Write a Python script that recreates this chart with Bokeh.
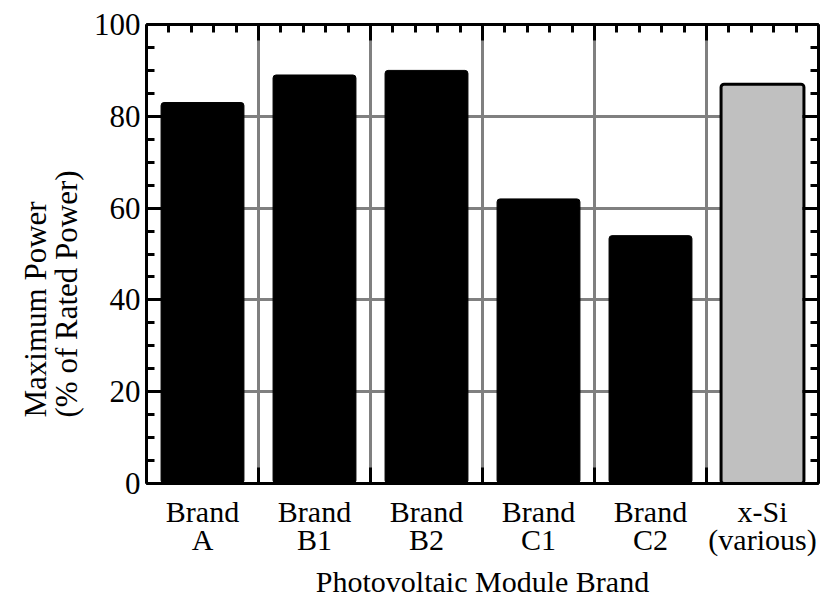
from bokeh.plotting import figure
from bokeh.models import FixedTicker, SingleIntervalTicker, LinearAxis, Range1d, Title, ColumnDataSource
from bokeh.embed import file_html
from bokeh.resources import INLINE

# ---- data ----
categories = ["Brand\nA", "Brand\nB1", "Brand\nB2", "Brand\nC1", "Brand\nC2", "x-Si\n(various)"]
max_power = [83, 89, 90, 62, 54, 87]
bar_colors = ["black", "black", "black", "black", "black", "#c0c0c0"]
x_label = "Photovoltaic Module Brand"
y_label = "Maximum Power\n(% of Rated Power)"

FONT = "Liberation Serif"
positions = list(range(1, len(categories) + 1))
bounds = [x - 0.5 for x in positions] + [positions[-1] + 0.5]
top_minor = [b + k * 0.2 for b in bounds[:-1] for k in range(1, 5)]

src = ColumnDataSource(dict(x=positions, top=max_power, color=bar_colors,
                            lw=[1, 1, 1, 1, 1, 3]))

p = figure(width=824, height=602, x_range=Range1d(0.5, 6.5), y_range=Range1d(0, 100),
           output_backend="svg", toolbar_location=None,
           min_border_left=146, min_border_right=6, min_border_top=24, min_border_bottom=119)
p.outline_line_color = None
p.background_fill_color = "white"
p.border_fill_color = "white"

bx = p.below[0]
ly = p.left[0]

# grids
p.xgrid.ticker = FixedTicker(ticks=bounds[1:-1])
p.ygrid.ticker = FixedTicker(ticks=[20, 40, 60, 80])
for g in (p.xgrid, p.ygrid):
    g.grid_line_color = "#808080"
    g.grid_line_width = 3

p.vbar(x="x", top="top", bottom=0, width=0.74, source=src, fill_color="color",
       line_color="black", line_width="lw", border_radius=3)

def style_axis(ax):
    ax.axis_line_color = "black"
    ax.axis_line_width = 3
    ax.major_tick_line_color = "black"
    ax.minor_tick_line_color = "black"
    ax.major_tick_line_width = 3
    ax.minor_tick_line_width = 3
    ax.major_tick_out = 0
    ax.minor_tick_out = 0
    ax.major_label_text_font = FONT
    ax.major_label_text_color = "black"
    ax.axis_label_text_font = FONT
    ax.axis_label_text_font_style = "normal"
    ax.axis_label_text_color = "black"

def hide_labels(ax, ticks):
    ax.major_label_overrides = {t: "" for t in ticks}
    ax.major_label_text_font_size = "1px"
    ax.major_label_standoff = 0

# left axis
ly.ticker = SingleIntervalTicker(interval=20, num_minor_ticks=4)
style_axis(ly)
ly.major_tick_in = 16
ly.minor_tick_in = 8
ly.major_label_text_font_size = "31px"
ly.major_label_standoff = 6

# bottom axis
bx.ticker = FixedTicker(ticks=positions, minor_ticks=bounds)
style_axis(bx)
bx.major_tick_in = 0
bx.minor_tick_in = 16
bx.major_label_overrides = {pos: lab for pos, lab in zip(positions, categories)}
bx.major_label_text_font_size = "30px"
bx.major_label_text_line_height = 0.85
bx.major_label_standoff = 11
bx.axis_label = x_label
bx.axis_label_text_font_size = "30px"
bx.axis_label_standoff = 6

# right axis
ry = LinearAxis(ticker=FixedTicker(ticks=[0, 20, 40, 60, 80, 100],
                                   minor_ticks=list(range(0, 101, 5))))
style_axis(ry)
hide_labels(ry, [0, 20, 40, 60, 80, 100])
ry.major_tick_in = 16
ry.minor_tick_in = 8
p.add_layout(ry, "right")

# top axis
tx = LinearAxis(ticker=FixedTicker(ticks=bounds, minor_ticks=top_minor))
style_axis(tx)
hide_labels(tx, bounds)
tx.major_tick_in = 16
tx.minor_tick_in = 8
p.add_layout(tx, "above")

# y-axis title (two lines, bottom aligned)
p.add_layout(Title(text=y_label, align="left", offset=66, standoff=13,
                   text_font=FONT, text_font_size="31px", text_font_style="normal",
                   text_color="black", text_line_height=0.88), "left")

open("out.html", "w").write(file_html(p, INLINE))
